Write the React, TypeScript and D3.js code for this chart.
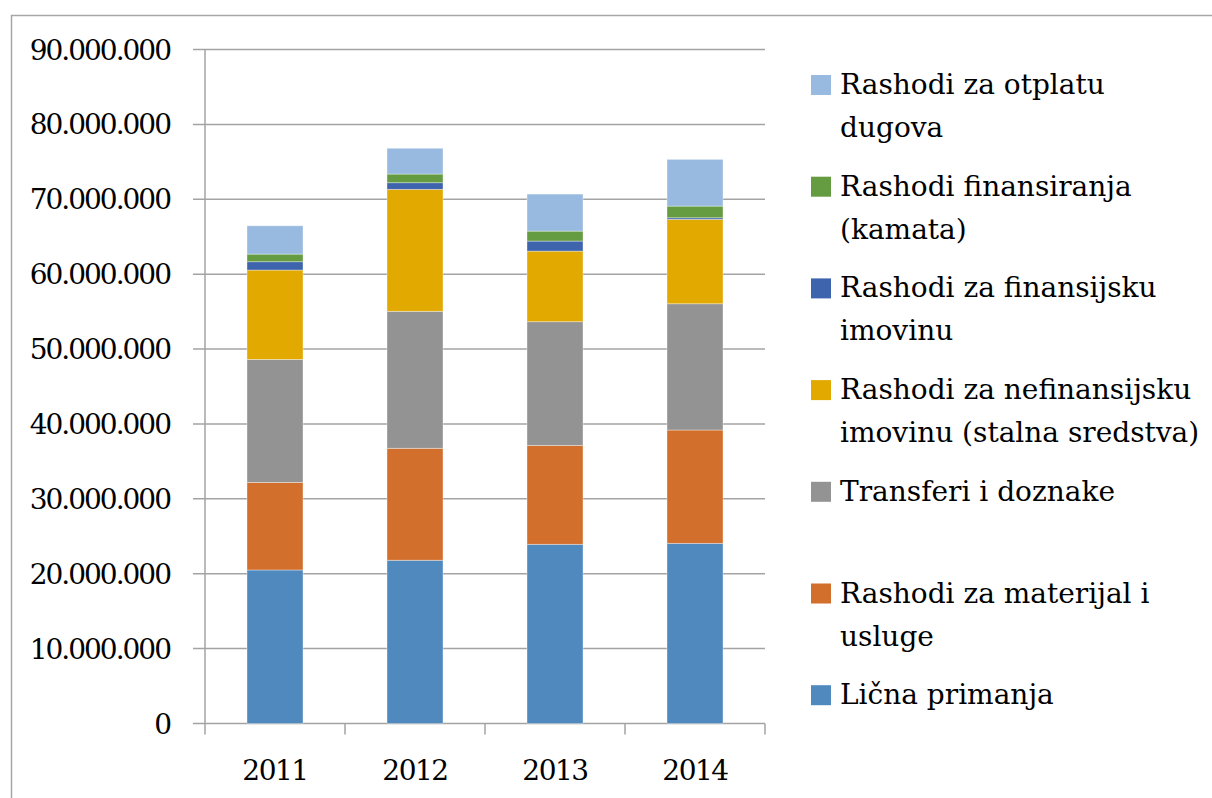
import React from "react";
import * as d3 from "d3";

const years = ["2011", "2012", "2013", "2014"];

// series in stacking order (bottom to top), values in KM
const seriesNames = [
  "Lična primanja",
  "Rashodi za materijal i\nusluge",
  "Transferi i doznake",
  "Rashodi za nefinansijsku\nimovinu (stalna sredstva)",
  "Rashodi za finansijsku\nimovinu",
  "Rashodi finansiranja\n(kamata)",
  "Rashodi za otplatu\ndugova",
];
const seriesColors = ["#4f89be", "#d36f2c", "#939393", "#e2a900", "#3e64ad", "#659b41", "#98b9e0"];

const licnaPrimanja = [20500000, 21800000, 23930000, 24060000];
const materijalUsluge = [11700000, 14950000, 13210000, 15130000];
const transferiDoznake = [16420000, 18290000, 16510000, 16860000];
const nefinansijskaImovina = [11930000, 16290000, 9430000, 11270000];
const finansijskaImovina = [1110000, 880000, 1340000, 210000];
const kamate = [1020000, 1160000, 1330000, 1560000];
const otplataDugova = [3780000, 3440000, 4940000, 6240000];

const seriesValues = [
  licnaPrimanja,
  materijalUsluge,
  transferiDoznake,
  nefinansijskaImovina,
  finansijskaImovina,
  kamate,
  otplataDugova,
];

const yTicks = [0, 10000000, 20000000, 30000000, 40000000, 50000000, 60000000, 70000000, 80000000, 90000000];

const FONT = "'DejaVu Serif', 'Liberation Serif', serif";

export default function App() {
  const W = 1212;
  const H = 798;
  const x = d3.scaleBand<string>().domain(years).range([205, 765]).paddingInner(0.6).paddingOuter(0.3);
  const y = d3.scaleLinear().domain([0, 90000000]).range([723.5, 49.5]);
  const locale = d3.formatLocale({ decimal: ",", thousands: ".", grouping: [3], currency: ["", ""] });
  const fmt = locale.format(",d");

  const rows = years.map((yr, i) => {
    const r: Record<string, number | string> = { year: yr };
    seriesNames.forEach((s, k) => (r[s] = seriesValues[k][i]));
    return r;
  });
  const stacked = d3.stack<any>().keys(seriesNames)(rows);

  const gridColor = "#a3a3a3";
  const step = x.step();
  const boundaries = [0, 1, 2, 3, 4].map((i) => 205 + i * step);

  return (
    <div style={{ position: "absolute", left: 0, top: 0 }}>
      <svg width={W} height={H} style={{ display: "block", background: "#fff" }}>
        {/* chart border */}
        <path d={`M11.5,${H + 5} V15.5 H${W + 5}`} fill="none" stroke="#a6a6a6" strokeWidth={1.5} />

        {/* gridlines */}
        {yTicks.map((t) => (
          <line key={t} x1={193} x2={765} y1={y(t)} y2={y(t)} stroke={gridColor} strokeWidth={1.5} />
        ))}
        {/* y axis line */}
        <line x1={205} x2={205} y1={y(90000000)} y2={y(0)} stroke={gridColor} strokeWidth={1.5} />
        {/* x ticks */}
        {boundaries.map((b, i) => (
          <line key={i} x1={b} x2={b} y1={y(0)} y2={y(0) + 11} stroke={gridColor} strokeWidth={1.5} />
        ))}

        {/* bars */}
        {stacked.map((layer, k) => (
          <g key={layer.key} fill={seriesColors[k]}>
            {layer.map((d, i) => (
              <rect
                key={i}
                x={x(years[i])}
                width={x.bandwidth()}
                y={y(d[1])}
                height={Math.max(0, y(d[0]) - y(d[1]))}
                stroke="rgba(255,255,255,0.45)"
                strokeWidth={0.8}
              />
            ))}
          </g>
        ))}

        {/* y labels */}
        {yTicks.map((t) => (
          <text key={t} x={170} y={y(t) + 10} textAnchor="end" fontFamily={FONT} fontSize={28} letterSpacing={-2} fill="#000">
            {fmt(t)}
          </text>
        ))}
        {/* x labels */}
        {years.map((yr) => (
          <text key={yr} x={(x(yr) as number) + x.bandwidth() / 2} y={780} textAnchor="middle" fontFamily={FONT} fontSize={28} letterSpacing={-1.5} fill="#000">
            {yr}
          </text>
        ))}

        {/* legend */}
        {seriesNames
          .map((s, k) => ({ s, k }))
          .reverse()
          .map(({ s, k }, i) => {
            const base = 94 + i * 101.7;
            const lines = s.split("\n");
            return (
              <g key={s}>
                <rect x={811} y={base - 19} width={20} height={20} fill={seriesColors[k]} />
                {lines.map((ln, j) => (
                  <text key={j} x={840} y={base + j * 43} fontFamily={FONT} fontSize={28} fill="#000">
                    {ln}
                  </text>
                ))}
              </g>
            );
          })}
      </svg>
    </div>
  );
}
